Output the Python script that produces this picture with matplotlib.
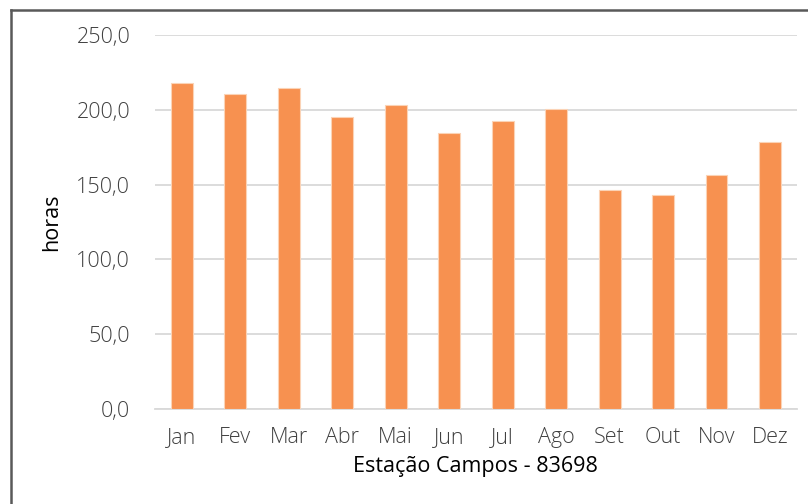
import matplotlib
matplotlib.use("Agg")
import matplotlib.pyplot as plt
from matplotlib.lines import Line2D

plt.rcParams['font.family'] = ['Open Sans', 'DejaVu Sans']
plt.rcParams['font.weight'] = 'light'

meses = ["Jan", "Fev", "Mar", "Abr", "Mai", "Jun", "Jul", "Ago", "Set", "Out", "Nov", "Dez"]
horas = [217.6, 210.4, 214.6, 195.0, 203.5, 184.5, 192.3, 200.5, 146.5, 143.2, 156.6, 178.7]
yticks = [0, 50, 100, 150, 200, 250]

fig = plt.figure(figsize=(8.08, 5.04), dpi=100)
ax = fig.add_axes([0.192, 0.1885, 0.794, 0.742])

ax.bar(range(len(meses)), horas, width=0.41, color="#F79150",
       edgecolor="#FBD3B6", linewidth=0.8, zorder=3)

ax.set_xlim(-0.5, len(meses) - 0.5)
ax.set_ylim(0, 250)
ax.set_yticks(yticks)
ax.set_yticklabels([f"{v:.1f}".replace(".", ",") for v in yticks])
ax.set_xticks(range(len(meses)))
ax.set_xticklabels(meses)
ax.yaxis.grid(True, color="#D9D9D9", linewidth=1.3, zorder=0)
ax.tick_params(axis="both", length=0, labelsize=15.5, labelcolor="#404040")
ax.tick_params(axis="y", pad=18)
ax.tick_params(axis="x", pad=13)
for s in ["top", "right", "left"]:
    ax.spines[s].set_visible(False)
ax.spines["bottom"].set_color("#D9D9D9")
ax.spines["bottom"].set_linewidth(1.3)

ax.set_ylabel("horas", fontsize=15.5, color="black", labelpad=10)
ax.set_xlabel("Estação Campos - 83698", fontsize=15.5, color="black", labelpad=6)

# frame border (left and top only, cropped in original)
fig.add_artist(Line2D([11 / 808, 11 / 808], [0, 1 - 10 / 504], color="#595959", linewidth=1.8))
fig.add_artist(Line2D([11 / 808, 1], [1 - 10 / 504, 1 - 10 / 504], color="#595959", linewidth=1.8))

fig.savefig("out.png", dpi=100)
